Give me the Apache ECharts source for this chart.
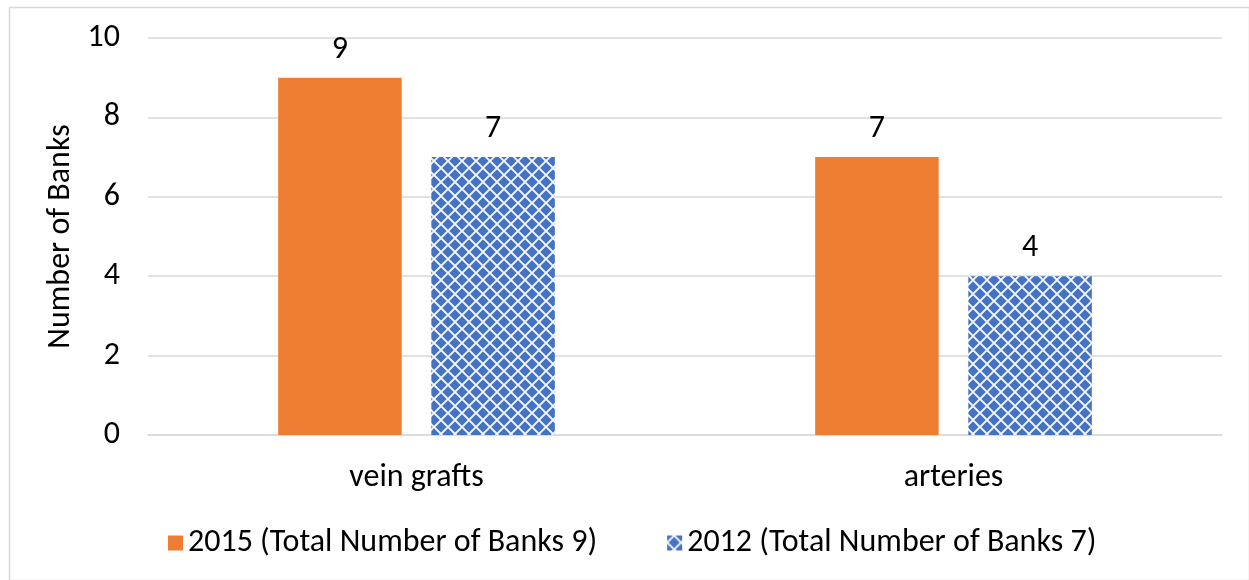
<!DOCTYPE html>
<html>
<head>
<meta charset="utf-8">
<script src="https://cdn.jsdelivr.net/npm/echarts@6/dist/echarts.min.js"></script>
<style>html,body{margin:0;padding:0;background:#fff;}#c{width:1249px;height:580px;}</style>
</head>
<body>
<div id="c"></div>
<script>
var categories = ['vein grafts', 'arteries'];
var seriesNames = ['2015 (Total Number of Banks 9)', '2012 (Total Number of Banks 7)'];
var values2015 = [9, 7];
var values2012 = [7, 4];
var yTicks = { min: 0, max: 10, interval: 2 };

var FONT = "Carlito, Calibri, 'Liberation Sans', sans-serif";
var FS = 32;

function makePattern() {
  var p = 14;
  var c = document.createElement('canvas');
  c.width = p; c.height = p;
  var g = c.getContext('2d');
  g.fillStyle = '#4472C4';
  g.fillRect(0, 0, p, p);
  g.strokeStyle = 'rgba(255,255,255,0.95)';
  g.lineWidth = 1.8;
  g.beginPath();
  g.moveTo(0, p / 2); g.lineTo(p / 2, 0);
  g.moveTo(p / 2, 0); g.lineTo(p, p / 2);
  g.moveTo(p, p / 2); g.lineTo(p / 2, p);
  g.moveTo(p / 2, p); g.lineTo(0, p / 2);
  g.stroke();
  return c;
}

var chart = echarts.init(document.getElementById('c'), null, { renderer: 'canvas' });
chart.setOption({
  backgroundColor: '#fff',
  animation: false,
  textStyle: { fontFamily: FONT },
  graphic: [{
    type: 'rect', left: 7, top: 5, silent: true,
    shape: { width: 1240, height: 573 },
    style: { fill: 'none', stroke: '#d9d9d9', lineWidth: 1.5 }
  }],
  grid: { left: 148, right: 27, top: 38, bottom: 145 },
  legend: {
    top: 522, left: 163,
    itemWidth: 15, itemHeight: 15, itemGap: 70,
    icon: 'rect',
    textStyle: { fontFamily: FONT, fontSize: FS, color: '#000' },
    data: seriesNames
  },
  xAxis: {
    type: 'category', data: categories,
    axisLine: { lineStyle: { color: '#d9d9d9', width: 1.5 } },
    axisTick: { show: false },
    axisLabel: { color: '#000', fontSize: FS, fontFamily: FONT, margin: 27 }
  },
  yAxis: {
    type: 'value', min: yTicks.min, max: yTicks.max, interval: yTicks.interval,
    name: 'Number of Banks', nameLocation: 'middle', nameGap: 68, nameRotate: 90,
    nameTextStyle: { color: '#000', fontSize: FS, fontFamily: FONT },
    axisLine: { show: false }, axisTick: { show: false },
    axisLabel: { color: '#000', fontSize: FS, fontFamily: FONT, margin: 28 },
    splitLine: { lineStyle: { color: '#d9d9d9', width: 1.5 } }
  },
  series: [{
    name: seriesNames[0], type: 'bar', data: values2015,
    barWidth: '23%', barGap: '24%',
    itemStyle: { color: '#ED7D31' },
    label: { show: true, position: 'top', distance: 12, color: '#000', fontSize: FS, fontFamily: FONT }
  }, {
    name: seriesNames[1], type: 'bar', data: values2012,
    barWidth: '23%',
    itemStyle: { color: { image: makePattern(), repeat: 'repeat' } },
    label: { show: true, position: 'top', distance: 12, color: '#000', fontSize: FS, fontFamily: FONT }
  }]
});
</script>
</body>
</html>
